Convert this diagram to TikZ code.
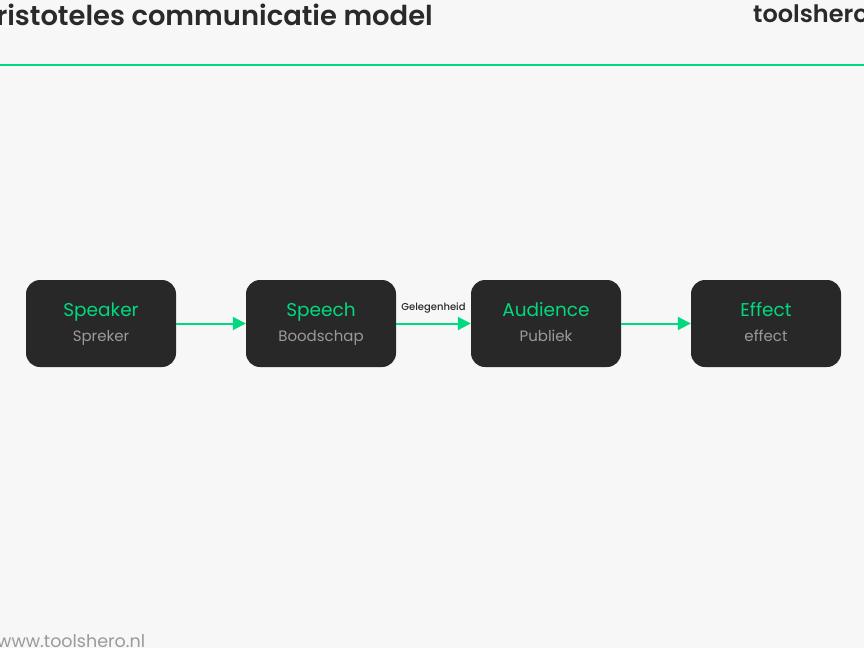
\documentclass[tikz,border=0pt]{standalone}
\usepackage{fontspec}
\setmainfont{Poppins}
\newfontfamily\headfont{Poppins SemiBold}
\newfontfamily\midfont{Poppins Medium}
\usetikzlibrary{arrows.meta}
\definecolor{bg}{HTML}{F7F7F7}
\definecolor{boxc}{HTML}{282828}
\definecolor{grn}{HTML}{00D97E}
\definecolor{sub}{HTML}{9A9A9A}
\definecolor{ink}{HTML}{2A2A2A}
\tikzset{
  stage/.style={draw=none, fill=boxc, rounded corners=14pt, minimum width=150pt, minimum height=87pt, inner sep=0pt},
  flow/.style={draw=grn, line width=2pt, -{Triangle[length=13pt,width=13pt]}},
  main/.style={text=grn, font=\fontsize{18.5}{22}\selectfont, anchor=center},
  subt/.style={text=sub, font=\fontsize{15}{18}\selectfont, anchor=center}
}
\begin{document}
\begin{tikzpicture}[x=1pt,y=-1pt]
\fill[bg] (0,0) rectangle (864,648);
\useasboundingbox (0,0) rectangle (864,648);
\clip (0,0) rectangle (864,648);
% header
\node[anchor=base east, inner sep=0pt, text=ink, font=\headfont\fontsize{27.4}{30}\selectfont] (title) at (433,25) {Aristoteles communicatie model};
\node[anchor=base west, inner sep=0pt, text=ink, font=\headfont\fontsize{24}{28}\selectfont] (brand) at (753,22) {toolshero};
\coordinate (hl) at (0,65);
\coordinate (hr) at (864,65);
\draw[grn, line width=2pt] (hl) -- (hr);
% boxes
\node[stage] (sp) at (101,323.5) {};
\node[stage] (sc) at (321,323.5) {};
\node[stage] (au) at (546,323.5) {};
\node[stage] (ef) at (766,323.5) {};
\foreach \n/\a/\b in {sp/Speaker/Spreker, sc/Speech/Boodschap, au/Audience/Publiek, ef/Effect/effect}{
  \node[main, anchor=base] (\n-t) at ([yshift=7pt]\n.center) {\a};
  \node[subt, anchor=base] (\n-s) at ([yshift=-18pt]\n.center) {\b};
}
\draw[flow] (sp) -- (sc);
\draw[flow] (sc) -- node[above=9pt, text=ink, font=\midfont\fontsize{10}{12}\selectfont, inner sep=0pt] (gl) {Gelegenheid} (au);
\draw[flow] (au) -- (ef);
% footer
\node[anchor=base west, inner sep=0pt, text=sub, font=\fontsize{17.5}{20}\selectfont] (foot) at (-3,647) {www.toolshero.nl};
\end{tikzpicture}
\end{document}
